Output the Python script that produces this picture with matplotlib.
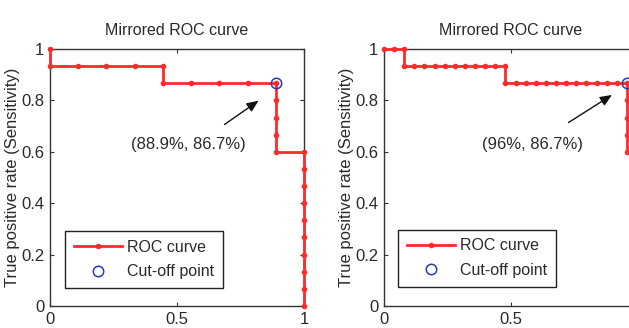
import matplotlib
matplotlib.use('Agg')
import matplotlib.pyplot as plt

plt.rcParams['font.family'] = ['Liberation Sans', 'DejaVu Sans']

# left panel: 9 negatives, 15 positives
left_x = [0, 0, 0.111, 0.222, 0.333, 0.444, 0.444, 0.556, 0.667, 0.778, 0.889,
          0.889, 0.889, 0.889, 0.889, 1, 1, 1, 1, 1, 1, 1, 1, 1, 1]
left_y = [1, 0.933, 0.933, 0.933, 0.933, 0.933, 0.867, 0.867, 0.867, 0.867, 0.867,
          0.8, 0.733, 0.667, 0.6, 0.6, 0.533, 0.467, 0.4, 0.333, 0.267, 0.2, 0.133, 0.067, 0]
left_cut = (0.889, 0.867)
left_label = '(88.9%, 86.7%)'

# right panel: 25 negatives, 15 positives
right_x = [0, 0.04, 0.08, 0.08, 0.12, 0.16, 0.2, 0.24, 0.28, 0.32, 0.36, 0.4, 0.44, 0.48,
           0.48, 0.52, 0.56, 0.6, 0.64, 0.68, 0.72, 0.76, 0.8, 0.84, 0.88, 0.92, 0.96,
           0.96, 0.96, 0.96, 0.96, 1, 1, 1, 1, 1, 1, 1, 1, 1, 1]
right_y = [1, 1, 1, 0.933, 0.933, 0.933, 0.933, 0.933, 0.933, 0.933, 0.933, 0.933, 0.933, 0.933,
           0.867, 0.867, 0.867, 0.867, 0.867, 0.867, 0.867, 0.867, 0.867, 0.867, 0.867, 0.867, 0.867,
           0.8, 0.733, 0.667, 0.6, 0.6, 0.533, 0.467, 0.4, 0.333, 0.267, 0.2, 0.133, 0.067, 0]
right_cut = (0.96, 0.867)
right_label = '(96%, 86.7%)'

txt = '#2a2a2a'
red = '#ff2a2a'
blue = '#2b3aa8'

W, H = 629, 328
fig = plt.figure(figsize=(W / 100, H / 100), dpi=100)


def panel(left_px, width_px, xs, ys, cut, label, text_xy, tail_xy, head_xy, leg_xy):
    ax = fig.add_axes([left_px / W, (H - 306) / H, width_px / W, 257 / H])
    ax.plot(xs, ys, '-', color=red, lw=2, marker='.', ms=6, label='ROC curve',
            zorder=3, clip_on=False)
    ax.plot([cut[0]], [cut[1]], 'o', mfc='none', mec=blue, mew=1.1, ms=7.5,
            label='Cut-off point', zorder=4, clip_on=False)
    ax.set_xlim(0, 1)
    ax.set_ylim(0, 1)
    ax.set_xticks([0, 0.5, 1])
    ax.set_xticklabels(['0', '0.5', '1'])
    ax.set_yticks([0, 0.2, 0.4, 0.6, 0.8, 1])
    ax.set_yticklabels(['0', '0.2', '0.4', '0.6', '0.8', '1'])
    ax.tick_params(direction='in', top=True, right=True, length=3, width=0.8,
                   labelsize=12, labelcolor=txt, color='#333333', pad=4)
    for s in ax.spines.values():
        s.set_color('#333333')
        s.set_linewidth(1)
    ax.set_title('Mirrored ROC curve', fontsize=11.5, color=txt, pad=10)
    ax.set_ylabel('True positive rate (Sensitivity)', fontsize=12, color=txt, labelpad=1)
    ax.set_xlabel('True negative rate (Specificity)', fontsize=12, color=txt, labelpad=2)
    ax.text(text_xy[0], text_xy[1], label, fontsize=12, color=txt, ha='center', va='center')
    ax.annotate('', xy=head_xy, xytext=tail_xy,
                arrowprops=dict(arrowstyle='-|>,head_length=0.7,head_width=0.3',
                                color='#111111', lw=1))
    leg = ax.legend(loc='lower left', bbox_to_anchor=leg_xy, borderaxespad=0,
                    fontsize=11.5, handlelength=3.0, handletextpad=0.35, numpoints=1,
                    fancybox=False, edgecolor='#222222', framealpha=1,
                    borderpad=0.55, labelspacing=0.6)
    leg.get_frame().set_linewidth(1)
    for t in leg.get_texts():
        t.set_color(txt)
    return ax


panel(50, 254, left_x, left_y, left_cut, left_label,
      (0.545, 0.63), (0.678, 0.70), (0.83, 0.805), (0.059, 0.07))
panel(384, 253, right_x, right_y, right_cut, right_label,
      (0.585, 0.63), (0.72, 0.708), (0.91, 0.827), (0.055, 0.075))

fig.savefig('out.png', dpi=100)
